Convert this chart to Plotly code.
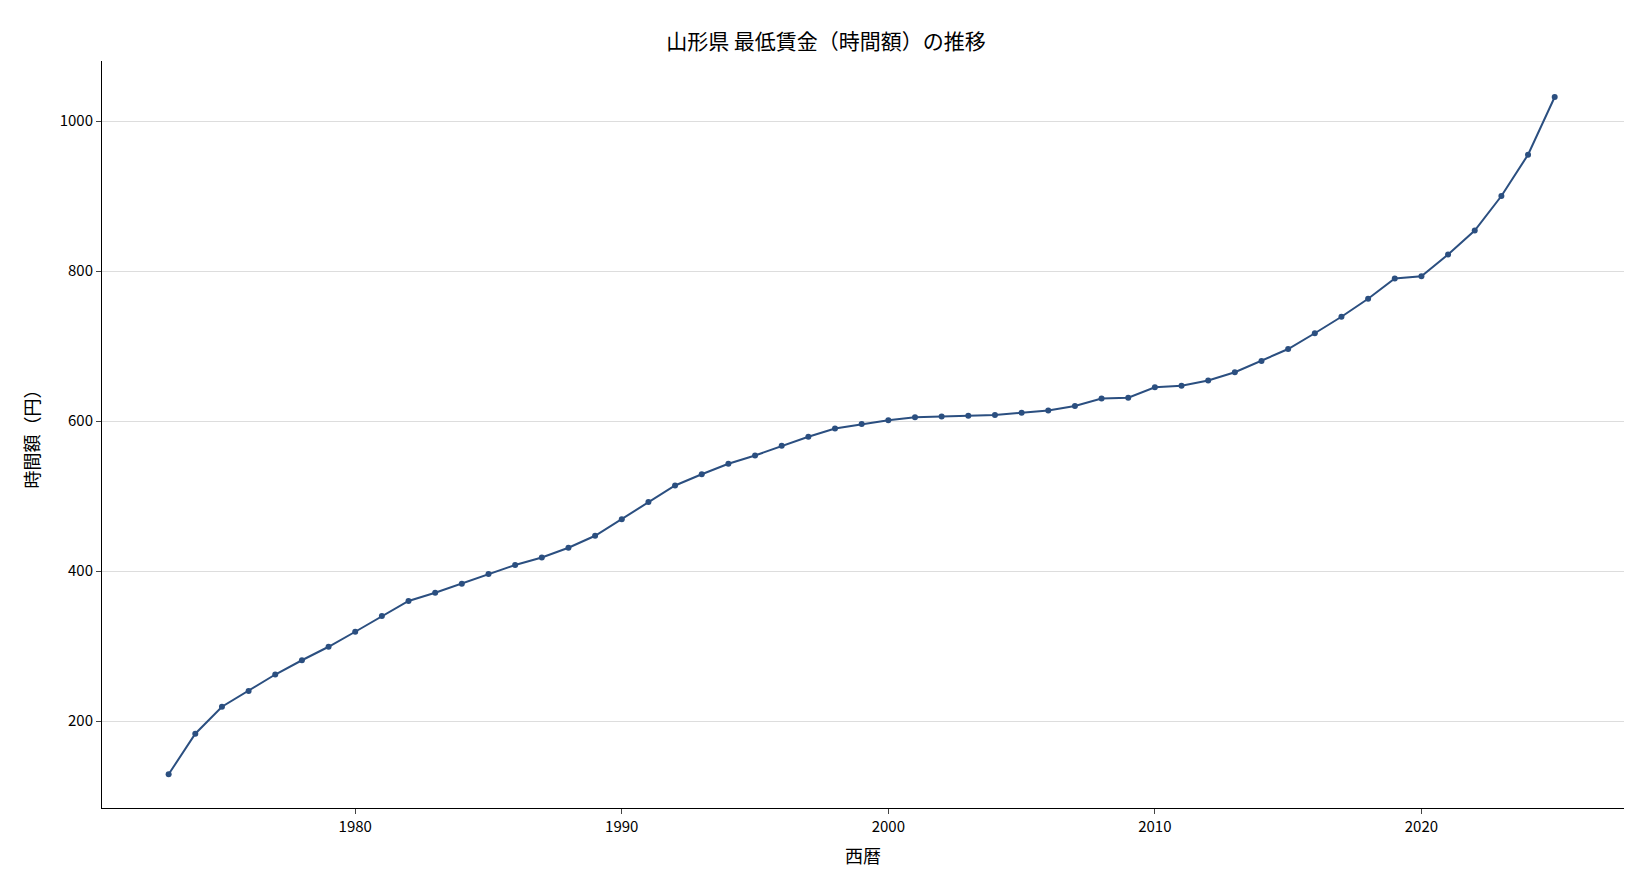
import plotly.graph_objects as go

years = list(range(1973, 2026))
wage = [129, 183, 219, 240, 262, 281, 299, 319, 340, 360, 371, 383, 396, 408, 418, 431,
        447, 469, 492, 514, 529, 543, 554, 567, 579, 590, 596, 601, 605, 606, 607, 608,
        611, 614, 620, 630, 631, 645, 647, 654, 665, 680, 696, 717, 739, 763, 790, 793,
        822, 854, 900, 955, 1032]

fig = go.Figure(go.Scatter(
    x=years, y=wage, mode="lines+markers",
    line=dict(color="#2b4f80", width=2),
    marker=dict(color="#2b4f80", size=6),
))
fig.update_layout(
    width=1636, height=886,
    paper_bgcolor="white", plot_bgcolor="white",
    font=dict(family="Noto Sans CJK JP", size=15, color="black"),
    title=dict(text="山形県 最低賃金（時間額）の推移", x=0.5, y=0.97, font=dict(size=21)),
    margin=dict(l=94, r=20, t=53, b=86),
    showlegend=False,
)
fig.update_xaxes(title_text="西暦", range=[1970.5, 2027.6], tickvals=[1980, 1990, 2000, 2010, 2020],
                 showgrid=False, showline=True, linecolor="black", ticks="outside", zeroline=False)
fig.update_yaxes(title_text="時間額（円）", range=[84, 1080], tickvals=[200, 400, 600, 800, 1000],
                 showgrid=True, gridcolor="#dddddd", showline=True, linecolor="black",
                 ticks="outside", zeroline=False)
fig.write_html("out.html")
